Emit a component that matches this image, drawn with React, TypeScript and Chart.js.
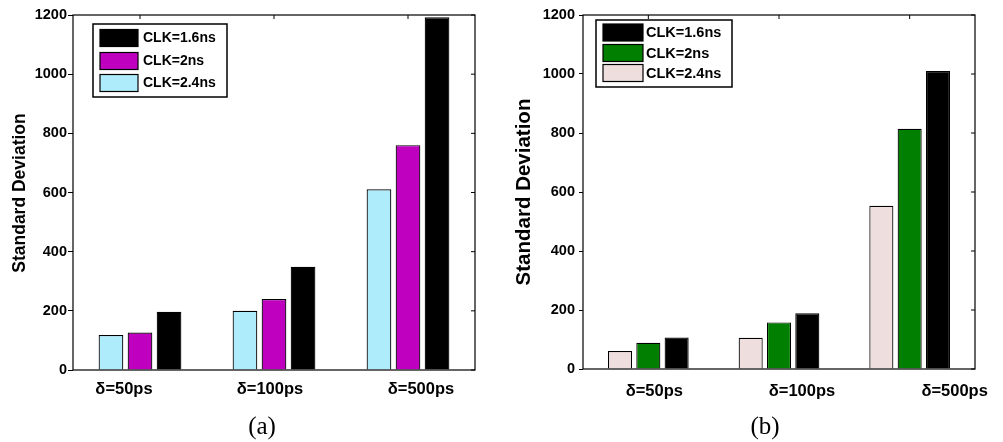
import React, { useEffect, useRef } from 'react';
import { Chart, registerables } from 'chart.js';
Chart.register(...registerables);

const categories = ['δ=50ps', 'δ=100ps', 'δ=500ps'];
const seriesNames = ['CLK=2.4ns', 'CLK=2ns', 'CLK=1.6ns'];
const panelA_clk24 = [118, 200, 611];
const panelA_clk20 = [127, 240, 760];
const panelA_clk16 = [197, 349, 1192];
const panelB_clk24 = [61, 106, 553];
const panelB_clk20 = [89, 158, 814];
const panelB_clk16 = [107, 189, 1010];
const yTicks = [0, 200, 400, 600, 800, 1000, 1200];
const yTitle = 'Standard Deviation';
const captions = ['(a)', '(b)'];

const FONT = '"Liberation Sans", Arial, Helvetica, sans-serif';
const SERIF = '"Liberation Serif", "Times New Roman", Times, serif';

type Panel = {
  width: number; left: number; plotLeft: number; plotRight: number; plotTop: number; plotBottom: number;
  colors: string[]; series: number[][]; labelOffsets: number[]; labelY: number; labelFont: number;
  titleSize: number; titleX: number; titleY: number;
  legend: { x: number; y: number; w: number; h: number; swX: number; swW: number; swH: number; rows: number[]; textX: number; font: number };
  caption: string; capX: number; capY: number; tickPad: number; tickLen: number;
};

const panels: Panel[] = [
  {
    width: 500, left: 0, plotLeft: 73, plotRight: 475, plotTop: 15, plotBottom: 370,
    colors: ['#AEEBFB', '#BF00BF', '#000000'], series: [panelA_clk24, panelA_clk20, panelA_clk16],
    labelOffsets: [-16, -4, 13], labelY: 389, labelFont: 16.5,
    titleSize: 17.5, titleX: 20, titleY: 193,
    legend: { x: 93, y: 24, w: 134, h: 73, swX: 100, swW: 38, swH: 17, rows: [38, 61, 83], textX: 143, font: 14 },
    caption: captions[0], capX: 262, capY: 434, tickPad: 1, tickLen: 5,
  },
  {
    width: 503, left: 500, plotLeft: 83, plotRight: 475, plotTop: 15, plotBottom: 369,
    colors: ['#EFDEDE', '#007F00', '#000000'], series: [panelB_clk24, panelB_clk20, panelB_clk16],
    labelOffsets: [6, 23, 45], labelY: 391, labelFont: 16.5,
    titleSize: 20.5, titleX: 24.5, titleY: 192,
    legend: { x: 96, y: 20, w: 136, h: 67, swX: 103, swW: 40, swH: 17, rows: [32.5, 53, 73], textX: 146, font: 14.5 },
    caption: captions[1], capX: 265, capY: 434, tickPad: 4, tickLen: 4,
  },
];

function PanelChart({ p }: { p: Panel }) {
  const ref = useRef<HTMLCanvasElement | null>(null);
  useEffect(() => {
    if (!ref.current) return;
    const decor = {
      id: 'decor',
      afterDatasetsDraw(chart: any) {
        const ctx = chart.ctx;
        const ca = chart.chartArea;
        const xs = chart.scales.x;
        const ys = chart.scales.y;
        ctx.save();
        ctx.strokeStyle = '#000';
        ctx.lineWidth = 1.2;
        ctx.strokeRect(ca.left, ca.top, ca.right - ca.left, ca.bottom - ca.top);
        ctx.lineWidth = 1;
        yTicks.forEach((v) => {
          const y = ys.getPixelForValue(v);
          ctx.beginPath();
          ctx.moveTo(ca.right, y);
          ctx.lineTo(ca.right - 4, y);
          ctx.stroke();
        });
        categories.forEach((_, i) => {
          const x = xs.getPixelForValue(i);
          ctx.beginPath();
          ctx.moveTo(x, ca.top);
          ctx.lineTo(x, ca.top + 4);
          ctx.stroke();
        });
        ctx.fillStyle = '#000';
        ctx.font = `bold ${p.labelFont}px ${FONT}`;
        ctx.textAlign = 'center';
        ctx.textBaseline = 'middle';
        categories.forEach((c, i) => {
          ctx.fillText(c, xs.getPixelForValue(i) + p.labelOffsets[i], p.labelY);
        });
        ctx.save();
        ctx.translate(p.titleX, p.titleY);
        ctx.rotate(-Math.PI / 2);
        ctx.font = `bold ${p.titleSize}px ${FONT}`;
        ctx.fillText(yTitle, 0, 0);
        ctx.restore();
        const L = p.legend;
        ctx.fillStyle = '#fff';
        ctx.fillRect(L.x, L.y, L.w, L.h);
        ctx.lineWidth = 1.5;
        ctx.strokeStyle = '#000';
        ctx.strokeRect(L.x, L.y, L.w, L.h);
        const ds = chart.data.datasets.slice().reverse();
        ctx.font = `bold ${L.font}px ${FONT}`;
        ctx.textAlign = 'left';
        ds.forEach((d: any, i: number) => {
          const cy = L.rows[i];
          ctx.fillStyle = d.backgroundColor;
          ctx.fillRect(L.swX, cy - L.swH / 2, L.swW, L.swH);
          ctx.lineWidth = 1.2;
          ctx.strokeRect(L.swX, cy - L.swH / 2, L.swW, L.swH);
          ctx.fillStyle = '#000';
          ctx.fillText(d.label, L.textX, cy + 0.5);
        });
        ctx.font = `25px ${SERIF}`;
        ctx.textAlign = 'center';
        ctx.textBaseline = 'alphabetic';
        ctx.fillText(p.caption, p.capX, p.capY);
        ctx.restore();
      },
    };
    const chart = new Chart(ref.current, {
      type: 'bar',
      data: {
        labels: categories,
        datasets: p.series.map((s, i) => ({
          label: seriesNames[i],
          data: s,
          backgroundColor: p.colors[i],
          borderColor: '#000',
          borderWidth: 1.2,
          categoryPercentage: 0.65,
          barPercentage: 0.85,
        })),
      },
      options: {
        animation: false,
        responsive: false,
        devicePixelRatio: 1,
        layout: { padding: { left: 0, top: p.plotTop, right: p.width - p.plotRight, bottom: 0 } },
        plugins: { legend: { display: false }, tooltip: { enabled: false } },
        scales: {
          x: {
            type: 'category',
            offset: true,
            ticks: { display: false },
            grid: { display: false },
            border: { display: false },
            afterFit: (s: any) => { s.height = 442 - p.plotBottom; },
          },
          y: {
            min: 0,
            max: 1200,
            afterBuildTicks: (s: any) => { s.ticks = yTicks.map((v) => ({ value: v })); },
            ticks: {
              color: '#000',
              padding: p.tickPad,
              font: { family: FONT, size: 14.5, weight: 'bold' },
              callback: (v: any) => String(v),
            },
            grid: { display: true, drawOnChartArea: false, drawTicks: true, tickLength: p.tickLen, color: '#000' },
            border: { display: false },
            afterFit: (s: any) => { s.width = p.plotLeft; },
          },
        },
      },
      plugins: [decor],
    } as any);
    return () => chart.destroy();
  }, [p]);
  return (
    <div style={{ position: 'absolute', left: p.left, top: 0, width: p.width, height: 442 }}>
      <canvas ref={ref} width={p.width} height={442} style={{ width: p.width, height: 442, display: 'block' }} />
    </div>
  );
}

export default function App() {
  return (
    <div style={{ position: 'absolute', left: 0, top: 0, width: 1003, height: 442, background: '#fff' }}>
      {panels.map((p, i) => <PanelChart key={i} p={p} />)}
    </div>
  );
}
